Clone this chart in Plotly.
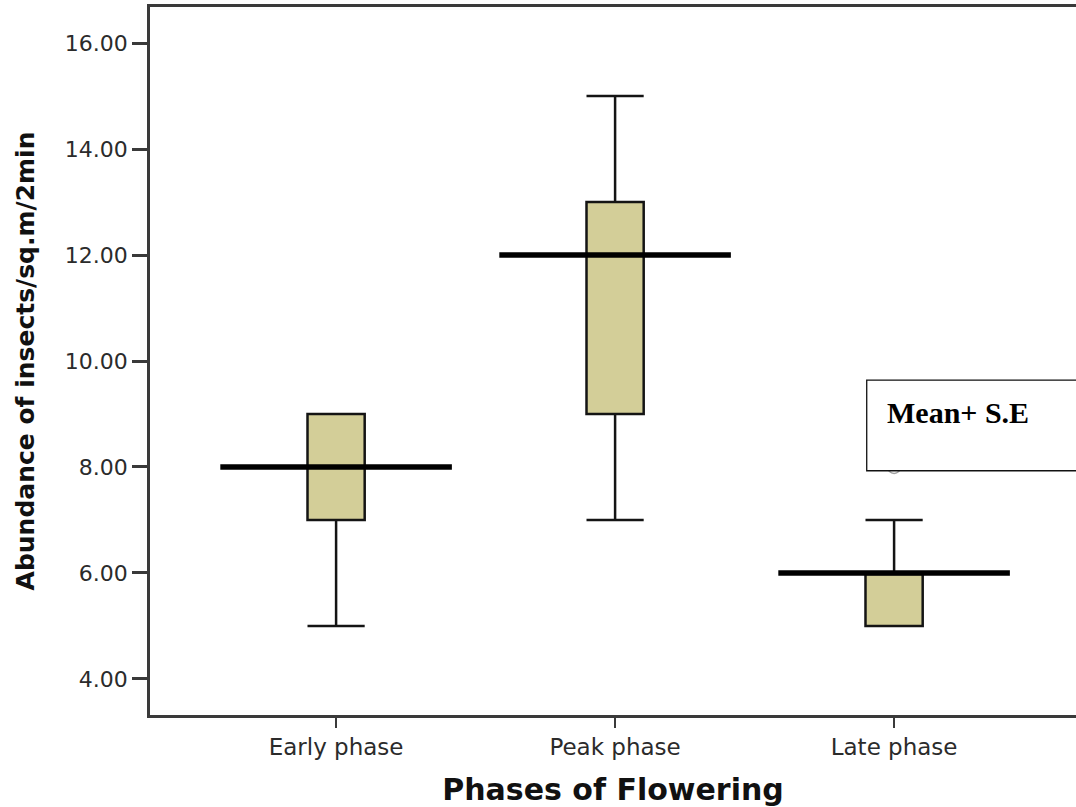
import plotly.graph_objects as go

# Flowering phases and the box statistics for insect abundance
phases = ["Early phase", "Peak phase", "Late phase"]
lower_whisker = [5, 7, 5]
q1 = [7, 9, 5]
median = [8, 12, 6]
q3 = [9, 13, 6]
upper_whisker = [9, 15, 7]
outlier_x = ["Late phase"]
outlier_y = [8]

y_ticks = [4, 6, 8, 10, 12, 14, 16]
y_tick_text = [f"{v:.2f}" for v in y_ticks]

pos = {p: i for i, p in enumerate(phases)}

BOX_FILL = "#D3CE98"
INK = "#141414"
AXIS = "#3a3a3a"

fig = go.Figure()

for i, p in enumerate(phases):
    fig.add_trace(go.Box(
        x=[pos[p]],
        q1=[q1[i]], median=[median[i]], q3=[q3[i]],
        lowerfence=[lower_whisker[i]], upperfence=[upper_whisker[i]],
        width=0.205, whiskerwidth=1,
        fillcolor=BOX_FILL,
        line=dict(color=INK, width=2.5),
        boxpoints=False, showlegend=False, hoverinfo="skip",
    ))

# Wide reference line drawn at each phase median
half = 0.415
for i, p in enumerate(phases):
    fig.add_trace(go.Scatter(
        x=[pos[p] - half, pos[p] + half], y=[median[i], median[i]],
        mode="lines", line=dict(color="#000000", width=5.5),
        showlegend=False, hoverinfo="skip",
    ))

# Outlying observation
fig.add_trace(go.Scatter(
    x=[pos[p] for p in outlier_x], y=outlier_y, mode="markers",
    marker=dict(symbol="circle-open", size=13, color="#a0a0a0", line=dict(width=1.5)),
    showlegend=False, hoverinfo="skip",
))

# Key box label
fig.add_shape(type="rect", xref="paper", yref="paper",
              x0=0.774, x1=1.02, y0=0.345, y1=0.473,
              fillcolor="white", line=dict(color="#111111", width=1.3), layer="above")
fig.add_annotation(xref="paper", yref="paper", x=0.794, y=0.427,
                   xanchor="left", yanchor="middle", showarrow=False,
                   text="<b>Mean+ S.E</b>",
                   font=dict(family="Liberation Serif, Times New Roman, serif", size=30, color="#000000"))

fig.update_layout(
    width=1076, height=807,
    margin=dict(l=150, r=0, t=7, b=92),
    paper_bgcolor="white", plot_bgcolor="white",
    font=dict(family="DejaVu Sans, Arial, sans-serif", color="#2b2b2b"),
)

fig.update_xaxes(
    range=[-0.667, 2.652],
    tickmode="array", tickvals=list(range(len(phases))), ticktext=phases,
    ticks="outside", ticklen=10, tickwidth=2, tickcolor=AXIS,
    tickfont=dict(size=23, color="#2b2b2b"),
    showline=True, linecolor=AXIS, linewidth=2.5, mirror=True,
    showgrid=False, zeroline=False,
    title=dict(text="<b>Phases of Flowering</b>",
               font=dict(family="DejaVu Sans, Verdana, sans-serif", size=30, color="#111111"),
               standoff=20),
)

fig.update_yaxes(
    range=[3.32, 16.68],
    tickmode="array", tickvals=y_ticks, ticktext=y_tick_text,
    ticks="outside", ticklen=15, tickwidth=2.5, tickcolor=AXIS,
    tickfont=dict(size=22, color="#2b2b2b"),
    showline=True, linecolor=AXIS, linewidth=2.5, mirror=False,
    showgrid=False, zeroline=False,
    title=dict(text="<b>Abundance of insects/sq.m/2min</b>",
               font=dict(family="DejaVu Sans, sans-serif", size=25, color="#111111"),
               standoff=24),
)

fig.write_html("out.html")
